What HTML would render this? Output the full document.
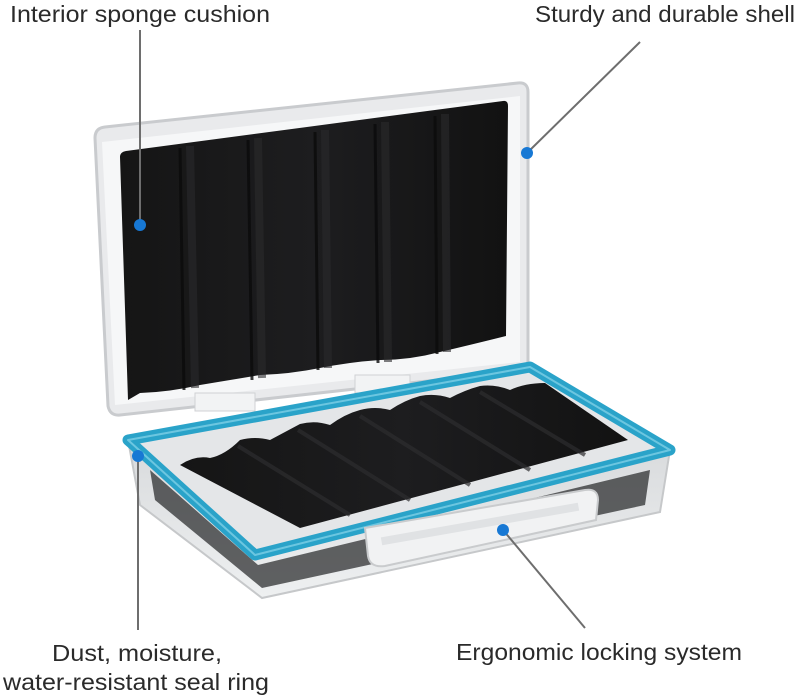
<!DOCTYPE html>
<html><head><meta charset="utf-8"><style>
html,body{margin:0;padding:0;background:#fff;}
svg{display:block;}
text{font-family:"Liberation Sans","DejaVu Sans",sans-serif;font-size:23px;fill:#2a2a2a;}
</style></head><body>
<svg width="803" height="697" viewBox="0 0 803 697" xmlns="http://www.w3.org/2000/svg">
<defs>
<linearGradient id="body" x1="0" y1="0" x2="0" y2="1">
<stop offset="0" stop-color="#d8dadc"/><stop offset="1" stop-color="#eef0f1"/></linearGradient>
<linearGradient id="foam" x1="0" y1="0" x2="1" y2="0">
<stop offset="0" stop-color="#151515"/><stop offset="0.5" stop-color="#1d1d1f"/><stop offset="1" stop-color="#121212"/></linearGradient>
</defs>

<!-- LID -->
<path d="M95,138 Q95,128 105,127 L518,83 Q528,82 528,92 L528,360 Q528,370 518,371 L120,415 Q110,416 108,406 Z" fill="#e9eaec" stroke="#c9cbce" stroke-width="3"/>
<path d="M102,142 L520,96 L520,362 L115,405 Z" fill="#f6f7f8"/>
<path d="M120,157 Q120,152 126,151 L503,101 Q508,100 508,106 L506,336 Q470,345 440,352 Q410,360 380,360 Q350,362 320,368 Q290,374 260,375 Q230,380 200,385 Q170,392 140,393 L128,400 Z" fill="url(#foam)"/>
<g stroke="#2a2a2c" stroke-width="8" opacity="0.6">
<line x1="190" y1="146" x2="195" y2="388"/>
<line x1="258" y1="138" x2="262" y2="378"/>
<line x1="325" y1="130" x2="328" y2="368"/>
<line x1="385" y1="122" x2="388" y2="362"/>
<line x1="445" y1="114" x2="447" y2="352"/>
</g>
<g stroke="#0b0b0b" stroke-width="3" opacity="0.8">
<line x1="180" y1="148" x2="184" y2="390"/>
<line x1="248" y1="140" x2="252" y2="380"/>
<line x1="315" y1="132" x2="318" y2="370"/>
<line x1="375" y1="124" x2="378" y2="363"/>
<line x1="435" y1="116" x2="437" y2="354"/>
</g>
<!-- hinges -->
<rect x="195" y="393" width="60" height="18" fill="#f2f3f4" stroke="#d0d2d4"/>
<rect x="355" y="375" width="55" height="18" fill="#f2f3f4" stroke="#d0d2d4"/>

<!-- BASE body -->
<path d="M128,440 L255,555 L670,450 L660,512 L262,598 L140,505 Z" fill="url(#body)" stroke="#c6c8ca" stroke-width="2"/>
<path d="M150,470 L258,565 L650,470 L645,505 L262,588 L155,500 Z" fill="#222325" opacity="0.7"/>
<!-- inner tray -->
<path d="M128,440 L530,367 L670,450 L255,555 Z" fill="#e4e6e8"/>
<path d="M180,465 Q195,455 210,458 Q225,455 240,440 Q255,436 270,440 Q285,432 300,424 Q315,420 330,425 Q345,414 360,410 Q375,406 390,410 Q405,400 420,396 Q435,393 450,398 Q465,390 480,386 Q495,384 510,390 Q525,383 545,383 L628,440 L300,528 Z" fill="url(#foam)"/>
<g stroke="#2d2d2f" stroke-width="4" opacity="0.7">
<line x1="238" y1="446" x2="350" y2="515"/>
<line x1="298" y1="430" x2="410" y2="500"/>
<line x1="360" y1="416" x2="470" y2="485"/>
<line x1="420" y1="402" x2="530" y2="470"/>
<line x1="480" y1="392" x2="585" y2="455"/>
</g>
<!-- blue rim -->
<path d="M128,440 L530,367 L670,450 L255,555 Z" fill="none" stroke="#2aa3c9" stroke-width="11" stroke-linejoin="round"/>
<path d="M128,440 L530,367 L670,450 L255,555 Z" fill="none" stroke="#6cc6e0" stroke-width="2" stroke-linejoin="round"/>
<!-- latch -->
<path d="M365,528 L585,490 Q598,488 598,500 L596,520 L385,566 Q370,568 368,556 Z" fill="#f1f2f3" stroke="#c9cbcd" stroke-width="2"/>
<rect x="380" y="520" width="200" height="8" fill="#e0e2e4" transform="rotate(-10 480 524)"/>

<!-- leaders -->
<g stroke="#6e6e6e" stroke-width="2" fill="none">
<line x1="140" y1="225" x2="140" y2="30"/>
<line x1="527" y1="153" x2="640" y2="42"/>
<line x1="138" y1="455" x2="138" y2="630"/>
<line x1="503" y1="530" x2="585" y2="628"/>
</g>
<g fill="#1778d4">
<circle cx="140" cy="225" r="6"/>
<circle cx="527" cy="153" r="6"/>
<circle cx="138" cy="456" r="6"/>
<circle cx="503" cy="530" r="6"/>
</g>

<!-- labels -->
<text x="10" y="22" textLength="260" lengthAdjust="spacingAndGlyphs">Interior sponge cushion</text>
<text x="535" y="22" textLength="260" lengthAdjust="spacingAndGlyphs">Sturdy and durable shell</text>
<text x="52" y="661" textLength="170" lengthAdjust="spacingAndGlyphs">Dust, moisture,</text>
<text x="3" y="690" textLength="266" lengthAdjust="spacingAndGlyphs">water-resistant seal ring</text>
<text x="456" y="660" textLength="286" lengthAdjust="spacingAndGlyphs">Ergonomic locking system</text>
</svg>
</body></html>
